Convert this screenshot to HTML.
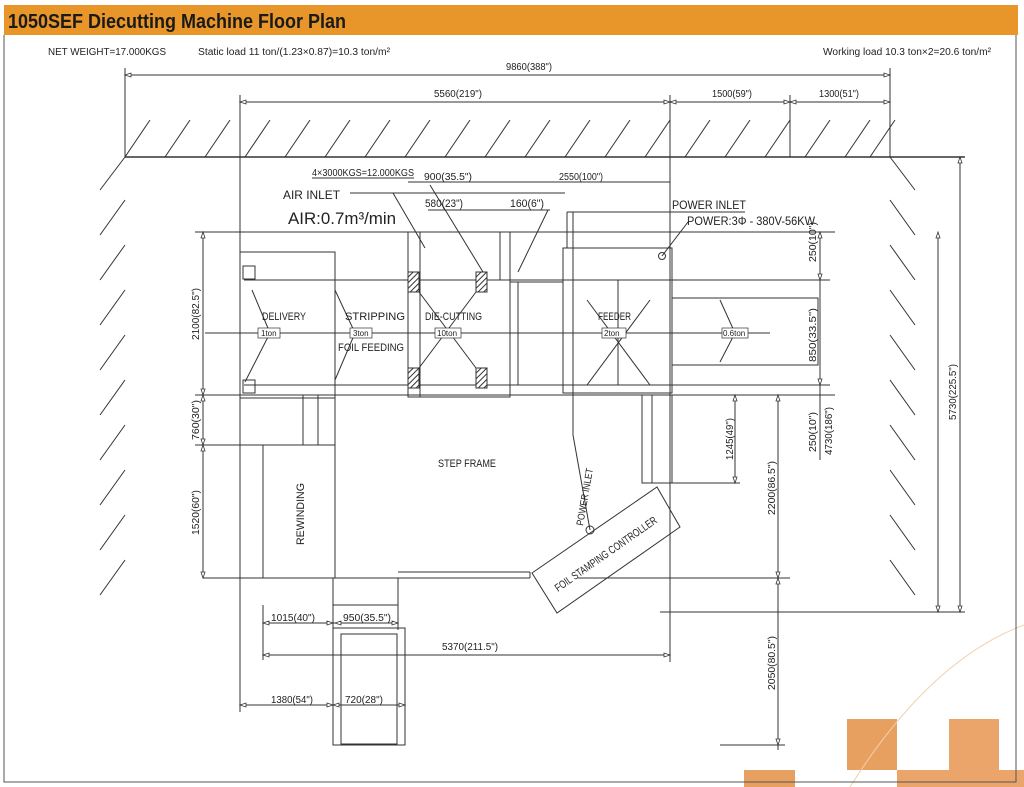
<!DOCTYPE html>
<html><head><meta charset="utf-8"><style>
html,body{margin:0;padding:0;background:#fff;width:1024px;height:787px;overflow:hidden}
svg{display:block}
text{font-family:"Liberation Sans",sans-serif;fill:#222}
</style></head><body>
<svg width="1024" height="787" viewBox="0 0 1024 787" xmlns="http://www.w3.org/2000/svg">
<defs>
<pattern id="h" width="4" height="4" patternUnits="userSpaceOnUse" patternTransform="rotate(45)"><rect width="4" height="4" fill="#fff"/><line x1="0" y1="0" x2="0" y2="4" stroke="#333" stroke-width="2"/></pattern>
</defs>
<rect x="4" y="5" width="1014" height="30" fill="#e8962a"/>
<text x="8" y="28" font-size="20" font-weight="bold" textLength="338" lengthAdjust="spacingAndGlyphs" style="fill:#1a1a1a">1050SEF Diecutting Machine Floor Plan</text>
<rect x="847" y="719" width="50" height="51" fill="#e8a060"/>
<rect x="949" y="719" width="50" height="51" fill="#eba56a"/>
<rect x="897" y="770" width="127" height="17" fill="#eba56a"/>
<rect x="744" y="770" width="51" height="17" fill="#e8a060"/>
<path d="M850 787 Q930 660 1024 625" stroke="#f0d0b0" fill="none" stroke-width="1"/>
<path d="M4 35 V782 H1016 V35" fill="none" stroke="#555" stroke-width="1"/>

<g font-size="10">
<text x="48" y="55" textLength="118" lengthAdjust="spacingAndGlyphs">NET WEIGHT=17.000KGS</text>
<text x="198" y="55" textLength="192" lengthAdjust="spacingAndGlyphs">Static load  11 ton/(1.23×0.87)=10.3 ton/m²</text>
<text x="823" y="55" textLength="168" lengthAdjust="spacingAndGlyphs">Working load   10.3 ton×2=20.6 ton/m²</text>
</g>

<g stroke="#333" stroke-width="1" fill="none">
<line x1="125" y1="157" x2="965" y2="157" stroke-width="1.5"/>
<path d="M125 157 L150 120 M165 157 L190 120 M205 157 L230 120 M245 157 L270 120 M285 157 L310 120 M325 157 L350 120 M365 157 L390 120 M405 157 L430 120 M445 157 L470 120 M485 157 L510 120 M525 157 L550 120 M565 157 L590 120 M605 157 L630 120 M645 157 L670 120 M685 157 L710 120 M725 157 L750 120 M765 157 L790 120 M805 157 L830 120 M845 157 L870 120 M870 157 L895 120"/>
<path d="M125 157 L100 190 M125 200 L100 235 M125 245 L100 280 M125 290 L100 325 M125 335 L100 370 M125 380 L100 415 M125 425 L100 460 M125 470 L100 505 M125 515 L100 550 M125 560 L100 595"/>
<path d="M890 157 L915 190 M890 200 L915 235 M890 245 L915 280 M890 290 L915 325 M890 335 L915 370 M890 380 L915 415 M890 425 L915 460 M890 470 L915 505 M890 515 L915 550 M890 560 L915 595"/>
<line x1="125" y1="68" x2="125" y2="157"/>
<line x1="890" y1="68" x2="890" y2="157"/>
<line x1="240" y1="95" x2="240" y2="712"/>
<line x1="670" y1="95" x2="670" y2="662"/>
<line x1="790" y1="95" x2="790" y2="157"/>
<line x1="125" y1="75" x2="890" y2="75"/>
<line x1="240" y1="102" x2="890" y2="102"/>
<line x1="408" y1="182" x2="670" y2="182"/>
<line x1="428" y1="210" x2="550" y2="210"/>
<line x1="350" y1="193" x2="565" y2="193"/>
<line x1="312" y1="178" x2="414" y2="178"/>
<line x1="672" y1="212" x2="745" y2="212"/>
<line x1="393" y1="193" x2="425" y2="248"/>
<line x1="430" y1="185" x2="483" y2="272"/>
<line x1="548" y1="210" x2="518" y2="272"/>
<line x1="688" y1="222" x2="662" y2="256"/>
<circle cx="662" cy="256" r="3.5"/>
<line x1="197" y1="232" x2="835" y2="232"/>
<rect x="240" y="252" width="95" height="146"/>
<rect x="243" y="266" width="12" height="13"/>
<rect x="243" y="380" width="12" height="13"/>
<line x1="244" y1="280" x2="820" y2="280"/>
<line x1="244" y1="385" x2="820" y2="385"/>
<line x1="240" y1="395" x2="835" y2="395"/>
<line x1="205" y1="333" x2="770" y2="333"/>
<rect x="408" y="232" width="102" height="165"/>
<line x1="420" y1="232" x2="420" y2="397"/>
<line x1="500" y1="232" x2="500" y2="280"/>
<rect x="408" y="272" width="11" height="20" fill="url(#h)"/>
<rect x="476" y="272" width="11" height="20" fill="url(#h)"/>
<rect x="408" y="368" width="11" height="20" fill="url(#h)"/>
<rect x="476" y="368" width="11" height="20" fill="url(#h)"/>
<line x1="419" y1="292" x2="476" y2="368"/>
<line x1="476" y1="292" x2="419" y2="368"/>
<rect x="510" y="282" width="53" height="103"/>
<line x1="518" y1="282" x2="518" y2="385"/>
<rect x="563" y="248" width="109" height="145"/>
<line x1="573" y1="212" x2="573" y2="435"/>
<line x1="567" y1="212" x2="672" y2="212"/>
<line x1="567" y1="212" x2="567" y2="248"/>
<line x1="618" y1="280" x2="618" y2="385"/>
<line x1="587" y1="300" x2="650" y2="385"/>
<line x1="650" y1="300" x2="587" y2="385"/>
<rect x="672" y="298" width="146" height="67"/>
<line x1="720" y1="300" x2="735" y2="333"/>
<line x1="735" y1="333" x2="720" y2="362"/>
<line x1="252" y1="290" x2="270" y2="333"/>
<line x1="270" y1="333" x2="245" y2="382"/>
<line x1="335" y1="290" x2="355" y2="333"/>
<line x1="355" y1="333" x2="335" y2="380"/>
<line x1="820" y1="232" x2="830" y2="232"/>
<line x1="672" y1="280" x2="830" y2="280"/>
<line x1="672" y1="385" x2="830" y2="385"/>
<line x1="672" y1="395" x2="790" y2="395"/>
<line x1="820" y1="232" x2="820" y2="460"/>
<line x1="778" y1="395" x2="778" y2="750"/>
<line x1="735" y1="395" x2="735" y2="483"/>
<line x1="938" y1="232" x2="938" y2="612"/>
<line x1="960" y1="157" x2="960" y2="612"/>
<line x1="660" y1="612" x2="965" y2="612"/>
<line x1="672" y1="483" x2="740" y2="483"/>
<rect x="642" y="395" width="30" height="88"/>
<line x1="652" y1="395" x2="652" y2="483"/>
<line x1="203" y1="578" x2="530" y2="578"/>
<line x1="530" y1="572" x2="530" y2="578"/>
<line x1="398" y1="572" x2="530" y2="572"/>
<rect x="333" y="578" width="65" height="27"/>
<line x1="335" y1="395" x2="335" y2="578"/>
<rect x="263" y="445" width="72" height="133"/>
<line x1="303" y1="395" x2="303" y2="445"/>
<line x1="318" y1="395" x2="318" y2="445"/>
<line x1="195" y1="395" x2="240" y2="395"/>
<line x1="195" y1="445" x2="263" y2="445"/>
<line x1="195" y1="232" x2="240" y2="232"/>
<line x1="203" y1="232" x2="203" y2="578"/>
<line x1="578" y1="578" x2="790" y2="578"/>
<polygon points="532,573 657,487 680,527 557,613"/>
<line x1="573" y1="435" x2="590" y2="530"/>
<circle cx="590" cy="530" r="4"/>
<rect x="333" y="628" width="72" height="117"/>
<rect x="341" y="634" width="56" height="110"/>
<line x1="263" y1="605" x2="263" y2="660"/>
<line x1="333" y1="605" x2="333" y2="712"/>
<line x1="398" y1="605" x2="398" y2="630"/>
<line x1="405" y1="690" x2="405" y2="712"/>
<line x1="263" y1="623" x2="398" y2="623"/>
<line x1="263" y1="655" x2="670" y2="655"/>
<line x1="240" y1="705" x2="405" y2="705"/>
<line x1="720" y1="745" x2="785" y2="745"/>
<line x1="655" y1="578" x2="790" y2="578"/>
</g>

<g fill="#fff" stroke="#333" stroke-width="0.8">
<path d="M125 75 l6 -2 v4z M890 75 l-6 -2 v4z M240 102 l6 -2 v4z M670 102 l-6 -2 v4z M670 102 l6 -2 v4z M790 102 l-6 -2 v4z M790 102 l6 -2 v4z M890 102 l-6 -2 v4z"/>
<path d="M960 157 l-2 6 h4z M960 612 l-2 -6 h4z M938 232 l-2 6 h4z M938 612 l-2 -6 h4z M778 395 l-2 6 h4z M778 578 l-2 -6 h4z M778 578 l-2 6 h4z M778 745 l-2 -6 h4z M735 395 l-2 6 h4z M735 483 l-2 -6 h4z"/>
<path d="M203 232 l-2 6 h4z M203 395 l-2 -6 h4z M203 395 l-2 6 h4z M203 445 l-2 -6 h4z M203 445 l-2 6 h4z M203 578 l-2 -6 h4z M820 232 l-2 6 h4z M820 280 l-2 -6 h4z M820 385 l-2 -6 h4z"/>
<path d="M263 623 l6 -2 v4z M333 623 l-6 -2 v4z M335 623 l6 -2 v4z M398 623 l-6 -2 v4z M263 655 l6 -2 v4z M670 655 l-6 -2 v4z M240 705 l6 -2 v4z M333 705 l-6 -2 v4z M333 705 l6 -2 v4z M405 705 l-6 -2 v4z"/>
</g>

<g font-size="10">
<text x="506" y="70" textLength="46" lengthAdjust="spacingAndGlyphs">9860(388")</text>
<text x="434" y="97" textLength="48" lengthAdjust="spacingAndGlyphs">5560(219")</text>
<text x="712" y="97" textLength="40" lengthAdjust="spacingAndGlyphs">1500(59")</text>
<text x="819" y="97" textLength="40" lengthAdjust="spacingAndGlyphs">1300(51")</text>
<text x="312" y="176" textLength="102" lengthAdjust="spacingAndGlyphs">4×3000KGS=12.000KGS</text>
<text x="424" y="180" textLength="48" lengthAdjust="spacingAndGlyphs">900(35.5")</text>
<text x="559" y="180" textLength="44" lengthAdjust="spacingAndGlyphs">2550(100")</text>
<text x="425" y="207" font-size="11" textLength="38" lengthAdjust="spacingAndGlyphs">580(23")</text>
<text x="510" y="207" font-size="11" textLength="34" lengthAdjust="spacingAndGlyphs">160(6")</text>
<text x="283" y="199" font-size="12" textLength="57" lengthAdjust="spacingAndGlyphs">AIR INLET</text>
<text x="288" y="224" font-size="17" textLength="108" lengthAdjust="spacingAndGlyphs">AIR:0.7m³/min</text>
<text x="672" y="209" font-size="12" textLength="74" lengthAdjust="spacingAndGlyphs">POWER INLET</text>
<text x="687" y="225" font-size="12" textLength="128" lengthAdjust="spacingAndGlyphs">POWER:3Φ - 380V-56KW</text>
<text x="262" y="320" font-size="11" textLength="44" lengthAdjust="spacingAndGlyphs">DELIVERY</text>
<text x="345" y="320" font-size="11" textLength="60" lengthAdjust="spacingAndGlyphs">STRIPPING</text>
<text x="425" y="320" font-size="11" textLength="57" lengthAdjust="spacingAndGlyphs">DIE-CUTTING</text>
<text x="598" y="320" font-size="11" textLength="33" lengthAdjust="spacingAndGlyphs">FEEDER</text>
<text x="338" y="351" font-size="11" textLength="66" lengthAdjust="spacingAndGlyphs">FOIL FEEDING</text>
<text x="438" y="467" font-size="11" textLength="58" lengthAdjust="spacingAndGlyphs">STEP FRAME</text>
<text x="442" y="650" textLength="56" lengthAdjust="spacingAndGlyphs">5370(211.5")</text>
<text x="271" y="621" textLength="44" lengthAdjust="spacingAndGlyphs">1015(40")</text>
<text x="343" y="621" textLength="48" lengthAdjust="spacingAndGlyphs">950(35.5")</text>
<text x="271" y="703" textLength="42" lengthAdjust="spacingAndGlyphs">1380(54")</text>
<text x="345" y="703" textLength="38" lengthAdjust="spacingAndGlyphs">720(28")</text>
</g>
<g font-size="8" stroke="#333" stroke-width="0.7" fill="#fff">
<rect x="258" y="328" width="22" height="10"/><rect x="350" y="328" width="22" height="10"/><rect x="435" y="328" width="26" height="10"/><rect x="602" y="328" width="24" height="10"/><rect x="722" y="328" width="26" height="10"/>
</g>
<g font-size="8">
<text x="261" y="336">1ton</text><text x="353" y="336">3ton</text><text x="437" y="336">10ton</text><text x="604" y="336">2ton</text><text x="723" y="336">0.6ton</text>
</g>
<g font-size="10">
<text transform="translate(199,340) rotate(-90)" textLength="52" lengthAdjust="spacingAndGlyphs">2100(82.5")</text>
<text transform="translate(199,440) rotate(-90)" textLength="40" lengthAdjust="spacingAndGlyphs">760(30")</text>
<text transform="translate(199,535) rotate(-90)" textLength="45" lengthAdjust="spacingAndGlyphs">1520(60")</text>
<text transform="translate(304,545) rotate(-90)" font-size="11" textLength="62" lengthAdjust="spacingAndGlyphs">REWINDING</text>
<text transform="translate(816,262) rotate(-90)" textLength="40" lengthAdjust="spacingAndGlyphs">250(10")</text>
<text transform="translate(816,362) rotate(-90)" textLength="54" lengthAdjust="spacingAndGlyphs">850(33.5")</text>
<text transform="translate(816,452) rotate(-90)" textLength="40" lengthAdjust="spacingAndGlyphs">250(10")</text>
<text transform="translate(832,455) rotate(-90)" textLength="48" lengthAdjust="spacingAndGlyphs">4730(186")</text>
<text transform="translate(956,420) rotate(-90)" textLength="56" lengthAdjust="spacingAndGlyphs">5730(225.5")</text>
<text transform="translate(775,515) rotate(-90)" textLength="54" lengthAdjust="spacingAndGlyphs">2200(86.5")</text>
<text transform="translate(775,690) rotate(-90)" textLength="54" lengthAdjust="spacingAndGlyphs">2050(80.5")</text>
<text transform="translate(733,460) rotate(-90)" textLength="42" lengthAdjust="spacingAndGlyphs">1245(49")</text>
<text transform="translate(583,526) rotate(-80)" textLength="58" lengthAdjust="spacingAndGlyphs">POWER INLET</text>
<text transform="translate(558,592) rotate(-35)" font-size="11" textLength="122" lengthAdjust="spacingAndGlyphs">FOIL STAMPING CONTROLLER</text>
</g>
</svg>
</body></html>
